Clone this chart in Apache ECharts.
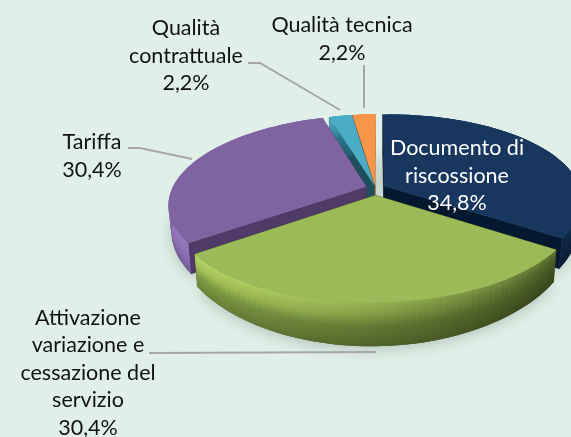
<!DOCTYPE html>
<html lang="it">
<head>
    <meta charset="UTF-8">
    <title>Reclami per tipologia</title>
    <style>
        html, body { margin: 0; padding: 0; background: #e0f0e8; }
        #main { width: 571px; height: 437px; }
    </style>
</head>
<body>
<div id="main"></div>
<script src="https://cdn.jsdelivr.net/npm/echarts@6/dist/echarts.min.js"></script>
<script type="text/javascript">
    // dati
    var categories = ['Documento di\nriscossione', 'Attivazione\nvariazione e\ncessazione del\nservizio', 'Tariffa', 'Qualità\ncontrattuale', 'Qualità tecnica'];
    var values = [34.8, 30.4, 30.4, 2.2, 2.2];

    // aspetto delle fette, stesso ordine dei dati
    var topColors = ['#17375e', '#9bbb59', '#8064a2', '#4bacc6', '#f79646'];
    var wallLeft = ['#143258', '#7f9c44', '#8a6cb0', '#2f7f94', '#c0702c'];
    var wallRight = ['#0c2440', '#3d4c1e', '#4f3a68', '#1f5a6a', '#a05a20'];
    var rimColors = ['#1f4673', '#b4d262', '#9478bb', '#5cbcd6', '#f9a860'];
    var cutColors = ['#04192f', '#3d4c1e', '#4f3a68', '#1f4f5c', '#b06a28'];
    var explode = [0.05, 0.085, 0.05, 0.03, 0.03];
    var drawRank = [3, 4, 2, 1, 0];

    // etichette e linee guida
    var labelPos = [[457, 176], [88, 373], [92, 156], [186, 56], [342, 39]];
    var labelColors = ['#ffffff', '#111111', '#111111', '#111111', '#111111'];
    var leaders = [
        null,
        [[149, 353], [376, 352]],
        [[128, 148], [140, 148], [192, 159]],
        [[248, 63], [260, 63], [340, 110]],
        [[364, 65], [364, 108]]
    ];

    // proiezione prospettica del disco
    var cx = 375.5, cy = 188, R = 195, Ry = 85, persp = 0.18, tilt = 0.012;

    function project(u, v, low) {
        var s = 1 / (1 - persp * v);
        var x = cx + R * u * s;
        var y = cy + Ry * v * s + (cx - x) * tilt;
        if (low) {
            y += 26 + 15 * v * v;
            x = cx + (x - cx) * 0.985;
        }
        return [x, y];
    }

    function hex(c) {
        return [parseInt(c.substr(1, 2), 16), parseInt(c.substr(3, 2), 16), parseInt(c.substr(5, 2), 16)];
    }
    function mix(a, b, t) {
        var p = hex(a), q = hex(b);
        return '#' + [0, 1, 2].map(function (i) {
            var n = Math.round(p[i] + (q[i] - p[i]) * t).toString(16);
            return n.length < 2 ? '0' + n : n;
        }).join('');
    }

    var total = values.reduce(function (a, b) { return a + b; }, 0);

    function renderSlice(params, api) {
        var idx = params.dataIndex;
        var start = 0;
        for (var i = 0; i < idx; i++) start += values[i];
        var a0 = start / total * Math.PI * 2;
        var a1 = (start + api.value(0)) / total * Math.PI * 2;
        var mid = (a0 + a1) / 2;
        var ox = explode[idx] * Math.sin(mid), oy = -explode[idx] * Math.cos(mid);
        var z = drawRank[idx] * 10;

        var steps = Math.max(4, Math.round((a1 - a0) / 0.03));
        var rim = [];
        for (var k = 0; k <= steps; k++) {
            var a = a0 + (a1 - a0) * k / steps;
            rim.push([ox + Math.sin(a), oy - Math.cos(a)]);
        }
        var apex = [ox, oy];
        var outline = function (low) {
            return [project(apex[0], apex[1], low)].concat(rim.map(function (p) { return project(p[0], p[1], low); }));
        };

        var children = [];
        // ombra a terra
        children.push({
            type: 'polygon',
            z2: -1,
            shape: { points: outline(true) },
            style: { fill: 'rgba(90,110,100,0.5)', shadowBlur: 14, shadowColor: 'rgba(60,80,70,0.55)', shadowOffsetY: 3 }
        });
        // pareti dei tagli
        [rim[0], rim[steps]].forEach(function (p) {
            children.push({
                type: 'polygon',
                z2: z + 1,
                shape: { points: [project(apex[0], apex[1]), project(p[0], p[1]), project(p[0], p[1], true), project(apex[0], apex[1], true)] },
                style: { fill: cutColors[idx], stroke: cutColors[idx], lineWidth: 0.5 }
            });
        });
        // parete esterna: ogni tratto copre un po' il successivo, cosi non restano fessure
        for (var j = 0; j < steps; j++) {
            var p0 = rim[j], p1 = rim[Math.min(j + 2, steps)];
            var t = Math.min(1, Math.max(0, ((p0[0] + 1) / 2 - 0.1) / 0.9));
            var wall = mix(wallLeft[idx], wallRight[idx], t);
            var top = project(p0[0], p0[1]);
            var bottom = project(p0[0], p0[1], true);
            children.push({
                type: 'polygon',
                z2: z + 2,
                shape: { points: [top, project(p1[0], p1[1]), project(p1[0], p1[1], true), bottom] },
                style: {
                    fill: new echarts.graphic.LinearGradient(0, top[1], 0, bottom[1], [
                        { offset: 0, color: mix(rimColors[idx], wall, t * 0.8) },
                        { offset: 0.3, color: mix(rimColors[idx], wall, 0.35 + t * 0.65) },
                        { offset: 0.55, color: wall },
                        { offset: 1, color: mix(wall, '#000000', 0.18) }
                    ], true)
                }
            });
        }
        // faccia superiore
        children.push({
            type: 'polygon',
            z2: z + 3,
            shape: { points: outline(false) },
            style: { fill: topColors[idx] }
        });
        // linea guida
        if (leaders[idx]) {
            children.push({
                type: 'polyline',
                z2: 100,
                shape: { points: leaders[idx] },
                style: { fill: 'none', stroke: '#a6a6a6', lineWidth: 2 }
            });
        }
        // etichetta
        children.push({
            type: 'text',
            z2: 101,
            style: {
                text: categories[idx] + '\n' + api.value(0).toFixed(1).replace('.', ',') + '%',
                x: labelPos[idx][0],
                y: labelPos[idx][1],
                align: 'center',
                verticalAlign: 'middle',
                font: '21.5px Lato',
                lineHeight: 27.5,
                fill: labelColors[idx]
            }
        });
        return { type: 'group', children: children };
    }

    var myChart = echarts.init(document.getElementById('main'));
    myChart.setOption({
        backgroundColor: '#e0f0e8',
        animation: false,
        series: [{
            type: 'custom',
            coordinateSystem: 'none',
            silent: true,
            clip: false,
            renderItem: renderSlice,
            data: values.map(function (v) { return [v]; })
        }]
    });
</script>
</body>
</html>
